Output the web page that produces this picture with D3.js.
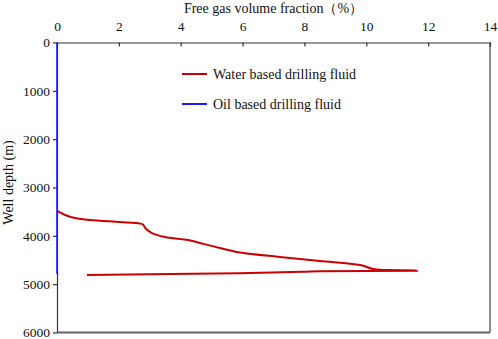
<!DOCTYPE html>
<html>
<head>
<meta charset="utf-8">
<script src="https://cdn.jsdelivr.net/npm/d3@7"></script>
<style>
body { margin: 0; background: #fff; }
</style>
</head>
<body>
<div id="chart"></div>
<script>
// x values (%) and well depth (m)
const waterX = [0, 0.26, 0.58, 1.07, 2.04, 2.68, 2.78, 2.88, 3.07, 3.49, 4.24, 4.62, 5.27, 5.92, 7.21, 8.50, 9.80, 10.22, 10.6, 11.64,
    8.5, 7.95, 5.9, 0.97];
const waterDepth = [3486, 3569, 3631, 3673, 3714, 3745, 3766, 3859, 3942, 4024, 4086, 4148, 4252, 4345, 4438, 4521, 4604, 4686, 4708, 4720,
    4735, 4745, 4772, 4810];
const oilX = [0, 0, 0.03];
const oilDepth = [0, 4770, 4800];

const xTicks = [0, 2, 4, 6, 8, 10, 12, 14];
const yTicks = [0, 1000, 2000, 3000, 4000, 5000, 6000];

const FONT = "'Times New Roman', 'Liberation Serif', 'DejaVu Serif', serif";
const FS = "13.5px";

const margin = { top: 42.5, right: 8, bottom: 6.5, left: 57 };
const W = 498, H = 339;
const width = W - margin.left - margin.right;
const height = H - margin.top - margin.bottom;

const svg = d3.select("#chart")
    .append("svg")
    .attr("width", W)
    .attr("height", H)
    .append("g")
    .attr("transform", `translate(${margin.left},${margin.top})`);

const x = d3.scaleLinear().domain([0, 14]).range([0, width]);
const y = d3.scaleLinear().domain([0, 6000]).range([0, height]);

// frame: right and bottom
svg.append("line")
    .attr("x1", width).attr("x2", width)
    .attr("y1", 0).attr("y2", height)
    .attr("stroke", "#444").attr("stroke-width", 1.2);
svg.append("line")
    .attr("x1", 0).attr("x2", width)
    .attr("y1", height).attr("y2", height)
    .attr("stroke", "#666").attr("stroke-width", 2);

// top axis, ticks point inward
svg.append("g")
    .call(d3.axisTop(x).tickValues(xTicks).tickFormat(d3.format("d"))
        .tickSizeInner(-4).tickSizeOuter(0).tickPadding(12));

// left axis
svg.append("g")
    .call(d3.axisLeft(y).tickValues(yTicks).tickFormat(d3.format("d"))
        .tickSizeInner(4).tickSizeOuter(0).tickPadding(3));

svg.selectAll(".tick text")
    .attr("fill", "#111")
    .style("font-size", FS)
    .style("font-family", FONT);
svg.selectAll(".domain, .tick line").attr("stroke", "#333").attr("stroke-width", 1.2);

const line = d3.line()
    .x(d => x(d[0]))
    .y(d => y(d[1]))
    .curve(d3.curveCatmullRom.alpha(0.5));

svg.append("path")
    .datum(waterX.map((v, i) => [v, waterDepth[i]]))
    .attr("d", line)
    .attr("fill", "none")
    .attr("stroke", "#cc0000")
    .attr("stroke-width", 2);

svg.append("path")
    .datum(oilX.map((v, i) => [v, oilDepth[i]]))
    .attr("d", d3.line().x(d => x(d[0])).y(d => y(d[1])))
    .attr("fill", "none")
    .attr("stroke", "#1a1aff")
    .attr("stroke-width", 1.6);

// legend
const legend = [
    { name: "Water based drilling fluid", color: "#cc0000" },
    { name: "Oil based drilling fluid", color: "#1a1aff" }
];
const lg = svg.append("g").attr("transform", "translate(125,31.5)");
legend.forEach((d, i) => {
    lg.append("line")
        .attr("x1", 0).attr("x2", 25)
        .attr("y1", i * 30).attr("y2", i * 30)
        .attr("stroke", d.color).attr("stroke-width", 2);
    lg.append("text")
        .attr("x", 31).attr("y", i * 30 + 5)
        .attr("fill", "#111")
        .style("font-size", "14px")
        .style("font-family", FONT)
        .text(d.name);
});

// titles
svg.append("text")
    .attr("x", width / 2)
    .attr("y", -30)
    .attr("text-anchor", "middle")
    .attr("fill", "#111")
    .style("font-size", "14px")
    .style("font-family", FONT)
    .text("Free gas volume fraction（%）");

svg.append("text")
    .attr("transform", `translate(-44,${height / 2 - 5}) rotate(-90)`)
    .attr("text-anchor", "middle")
    .attr("fill", "#111")
    .style("font-size", "14px")
    .style("font-family", FONT)
    .text("Well depth (m)");
</script>
</body>
</html>
